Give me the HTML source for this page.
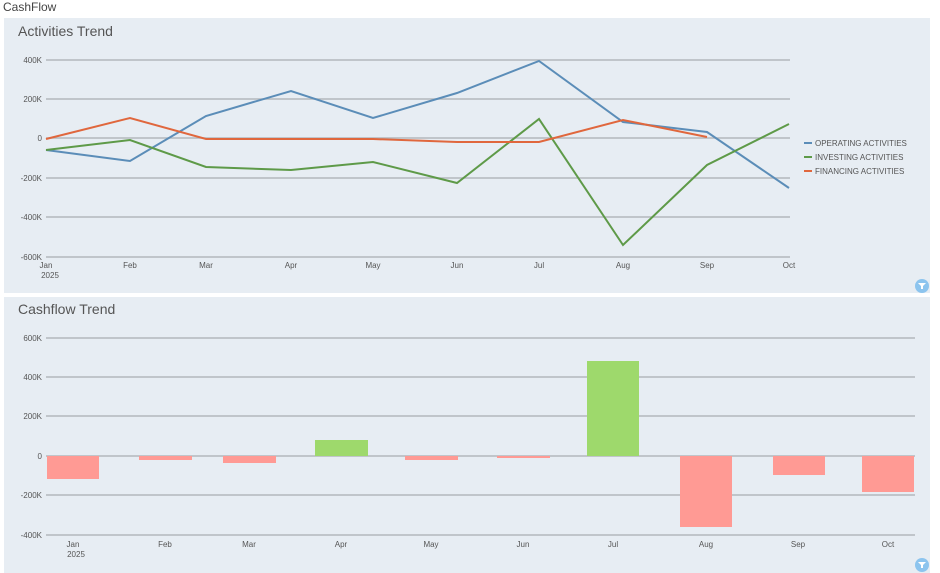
<!DOCTYPE html>
<html><head><meta charset="utf-8"><style>
html,body{margin:0;padding:0;background:#fff;width:940px;height:573px;overflow:hidden;font-family:"Liberation Sans",sans-serif}
</style></head><body>
<svg width="940" height="573" xmlns="http://www.w3.org/2000/svg" font-family="Liberation Sans, sans-serif">
<text x="3" y="11" font-size="12" fill="#444">CashFlow</text>
<rect x="4" y="18" width="926" height="275" fill="#e7edf3"/>
<rect x="4" y="297" width="926" height="276" fill="#e7edf3"/>
<text x="18" y="36" font-size="14" fill="#555">Activities Trend</text>
<text x="18" y="314" font-size="14" fill="#555">Cashflow Trend</text>
<g stroke="#b4b8bc" stroke-width="1.5">
<line x1="46" x2="790" y1="60" y2="60"/><line x1="46" x2="790" y1="99" y2="99"/><line x1="46" x2="790" y1="138" y2="138"/>
<line x1="46" x2="790" y1="178" y2="178"/><line x1="46" x2="790" y1="217" y2="217"/><line x1="46" x2="790" y1="257" y2="257"/>
<line x1="46" x2="915" y1="338" y2="338"/><line x1="46" x2="915" y1="377" y2="377"/><line x1="46" x2="915" y1="416" y2="416"/>
<line x1="46" x2="915" y1="456" y2="456"/><line x1="46" x2="915" y1="495" y2="495"/><line x1="46" x2="915" y1="535" y2="535"/>
</g>
<g font-size="8" fill="#555" text-anchor="end">
<text x="42" y="63">400K</text><text x="42" y="102">200K</text><text x="42" y="141">0</text><text x="42" y="181">-200K</text><text x="42" y="220">-400K</text><text x="42" y="260">-600K</text>
<text x="42" y="341">600K</text><text x="42" y="380">400K</text><text x="42" y="419">200K</text><text x="42" y="459">0</text><text x="42" y="498">-200K</text><text x="42" y="538">-400K</text>
</g>
<g font-size="8" fill="#555" text-anchor="middle">
<text x="46" y="268">Jan</text><text x="50" y="278">2025</text><text x="130" y="268">Feb</text><text x="206" y="268">Mar</text><text x="291" y="268">Apr</text><text x="373" y="268">May</text><text x="457" y="268">Jun</text><text x="539" y="268">Jul</text><text x="623" y="268">Aug</text><text x="707" y="268">Sep</text><text x="789" y="268">Oct</text>
<text x="73" y="547">Jan</text><text x="76" y="557">2025</text><text x="165" y="547">Feb</text><text x="249" y="547">Mar</text><text x="341" y="547">Apr</text><text x="431" y="547">May</text><text x="523" y="547">Jun</text><text x="613" y="547">Jul</text><text x="706" y="547">Aug</text><text x="798" y="547">Sep</text><text x="888" y="547">Oct</text>
</g>
<g fill="none" stroke-width="2">
<polyline stroke="#5b8db8" points="46,150 130,161 206,116 291,91 373,118 457,93 539,61 623,122 707,132 789,188"/>
<polyline stroke="#5e9a48" points="46,150 130,140 206,167 291,170 373,162 457,183 539,119 623,245 707,165 789,124"/>
<polyline stroke="#e0673d" points="46,139 130,118 206,139 291,139 373,139 457,142 539,142 623,120 707,137"/>
</g>
<g font-size="8" fill="#555">
<rect x="804" y="142" width="8" height="2" fill="#5b8db8"/><text x="815" y="146">OPERATING ACTIVITIES</text>
<rect x="804" y="156" width="8" height="2" fill="#5e9a48"/><text x="815" y="160">INVESTING ACTIVITIES</text>
<rect x="804" y="170" width="8" height="2" fill="#e0673d"/><text x="815" y="174">FINANCING ACTIVITIES</text>
</g>
<g fill="#ff9a94">
<rect x="47" y="456" width="52" height="23"/><rect x="139" y="456" width="53" height="4"/><rect x="223" y="456" width="53" height="7"/>
<rect x="405" y="456" width="53" height="4"/><rect x="497" y="456" width="53" height="2"/>
<rect x="680" y="456" width="52" height="71"/><rect x="773" y="456" width="52" height="19"/><rect x="862" y="456" width="52" height="36"/>
</g>
<g fill="#9ed96c">
<rect x="315" y="440" width="53" height="16"/><rect x="587" y="361" width="52" height="95"/>
</g>
<circle cx="922" cy="286" r="7" fill="#8cc4ee"/><path d="M918,283 h8 l-3,3 v3 h-2 v-3z" fill="#fff"/>
<circle cx="922" cy="565" r="7" fill="#8cc4ee"/><path d="M918,562 h8 l-3,3 v3 h-2 v-3z" fill="#fff"/>
</svg>
</body></html>
